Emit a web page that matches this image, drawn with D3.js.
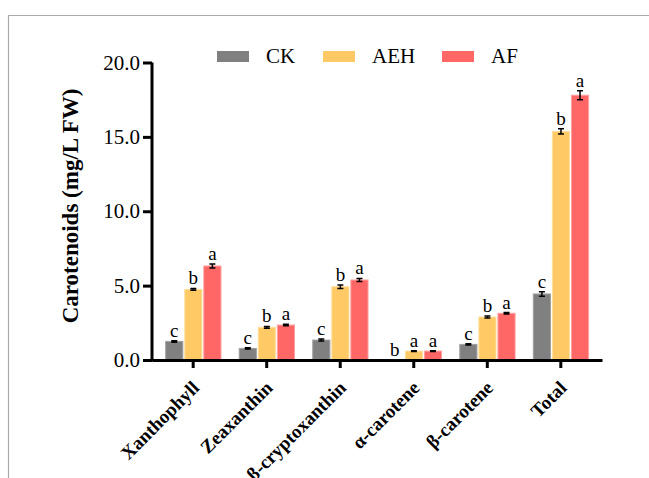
<!DOCTYPE html>
<meta charset="utf-8">
<style>
body { margin: 0; background: #fff; }
svg text { font-family: "Liberation Serif", "Times New Roman", Times, serif !important; fill: #000; }
.axis path, .axis line { stroke: #000; stroke-width: 3px; }
.axis text { font-size: 21px; }
.axis--x text { font-size: 19px; font-weight: bold; }
.sig { font-size: 19px; text-anchor: middle; }
.err { stroke: #000; stroke-width: 1.5px; fill: none; }
</style>
<body>
<script src="https://cdnjs.cloudflare.com/ajax/libs/d3/7.8.5/d3.min.js"></script>
<script>

// data
var categories = ["Xanthophyll", "Zeaxanthin", "\u03b2-cryptoxanthin", "\u03b1-carotene", "\u03b2-carotene", "Total"];
var series = ["CK", "AEH", "AF"];
var colors = ["#808080", "#FFC966", "#FF6666"];
var strokes = ["#a0a0a0", "#ffe0a0", "#ffa0a0"];

var valuesCK  = [1.25, 0.78, 1.34, 0.00, 1.05, 4.44];
var valuesAEH = [4.75, 2.20, 4.93, 0.60, 2.89, 15.37];
var valuesAF  = [6.32, 2.35, 5.38, 0.60, 3.14, 17.80];

var errCK  = [0.05, 0.04, 0.07, 0.00, 0.04, 0.15];
var errAEH = [0.06, 0.06, 0.12, 0.03, 0.06, 0.18];
var errAF  = [0.14, 0.05, 0.10, 0.03, 0.05, 0.30];

var lettersCK  = ["c", "c", "c", "b", "c", "c"];
var lettersAEH = ["b", "b", "b", "a", "b", "b"];
var lettersAF  = ["a", "a", "a", "a", "a", "a"];

var yTicks = [0, 5, 10, 15, 20];

var vals = [valuesCK, valuesAEH, valuesAF];
var errs = [errCK, errAEH, errAF];
var lets = [lettersCK, lettersAEH, lettersAF];

var W = 649, H = 478;
var serif = "Liberation Serif";

var svg = d3.select("body").append("svg")
    .attr("width", W)
    .attr("height", H)
    .attr("font-family", serif);

// frame
svg.append("path")
    .attr("d", "M8.5," + H + "V15.5H" + W)
    .attr("fill", "none")
    .attr("stroke", "#aaa")
    .attr("stroke-width", 1.2);

var x0 = d3.scaleBand().domain(categories).range([152, 602])
    .paddingInner(0).paddingOuter(0.06);
var x1 = d3.scaleBand().domain(series)
    .range([x0.bandwidth() * 0.126, x0.bandwidth() * 0.878])
    .paddingInner(0.1);
var y = d3.scaleLinear().domain([0, 20]).range([360, 62.5]);

// bars
var rows = [];
categories.forEach(function(c, i) {
  series.forEach(function(s, j) {
    rows.push({cat: c, s: s, j: j, v: vals[j][i], e: errs[j][i], l: lets[j][i]});
  });
});

var g = svg.append("g");
g.selectAll("rect").data(rows).enter().append("rect")
    .attr("x", function(d) { return x0(d.cat) + x1(d.s); })
    .attr("y", function(d) { return y(d.v); })
    .attr("width", x1.bandwidth())
    .attr("height", function(d) { return y(0) - y(d.v); })
    .attr("fill", function(d) { return colors[d.j]; })
    .attr("stroke", function(d) { return strokes[d.j]; })
    .attr("stroke-width", 1);

// error bars
g.selectAll("path.err").data(rows.filter(function(d) { return d.v > 0; })).enter().append("path")
    .attr("class", "err")
    .attr("d", function(d) {
      var cx = x0(d.cat) + x1(d.s) + x1.bandwidth() / 2;
      var t = y(d.v + d.e), b = y(d.v - d.e);
      return "M" + (cx - 3) + "," + t + "H" + (cx + 3) + "M" + cx + "," + t + "V" + b +
             "M" + (cx - 3) + "," + b + "H" + (cx + 3);
    });

// significance letters
g.selectAll("text.sig").data(rows).enter().append("text")
    .attr("class", "sig")
    .attr("font-family", serif)
    .attr("x", function(d) { return x0(d.cat) + x1(d.s) + x1.bandwidth() / 2; })
    .attr("y", function(d) { return y(d.v + d.e) - 4; })
    .text(function(d) { return d.l; });

// axes
var yAxis = svg.append("g")
    .attr("class", "axis axis--y")
    .attr("transform", "translate(152,0)")
    .call(d3.axisLeft(y).tickValues(yTicks).tickFormat(d3.format(".1f"))
      .tickSize(9).tickSizeOuter(0).tickPadding(3));
yAxis.attr("font-family", serif).attr("font-size", 21);
yAxis.select(".domain").attr("d", "M0," + y(20) + "V" + (y(0) + 1.5));

var xAxis = svg.append("g")
    .attr("class", "axis axis--x")
    .attr("transform", "translate(0,360)")
    .call(d3.axisBottom(x0).tickSize(8).tickSizeOuter(0));
xAxis.attr("font-family", serif).attr("font-size", 19);
xAxis.selectAll("text")
    .attr("x", 0).attr("y", 0).attr("dy", 0)
    .attr("text-anchor", "end")
    .attr("transform", "translate(7,29) rotate(-45)");

// y title
svg.append("text")
    .attr("transform", "translate(78,206) rotate(-90)")
    .attr("text-anchor", "middle")
    .attr("font-family", serif)
    .style("font-size", "23px")
    .style("font-weight", "bold")
    .text("Carotenoids (mg/L FW)");

// legend
var legX = [217, 323, 442];
var leg = svg.append("g");
series.forEach(function(s, j) {
  leg.append("rect")
      .attr("x", legX[j]).attr("y", 51)
      .attr("width", 32).attr("height", 11)
      .attr("fill", colors[j]);
  leg.append("text")
      .attr("x", legX[j] + 49).attr("y", 63)
      .attr("font-family", serif)
      .style("font-size", "21px")
      .text(s);
});

</script>
</body>
